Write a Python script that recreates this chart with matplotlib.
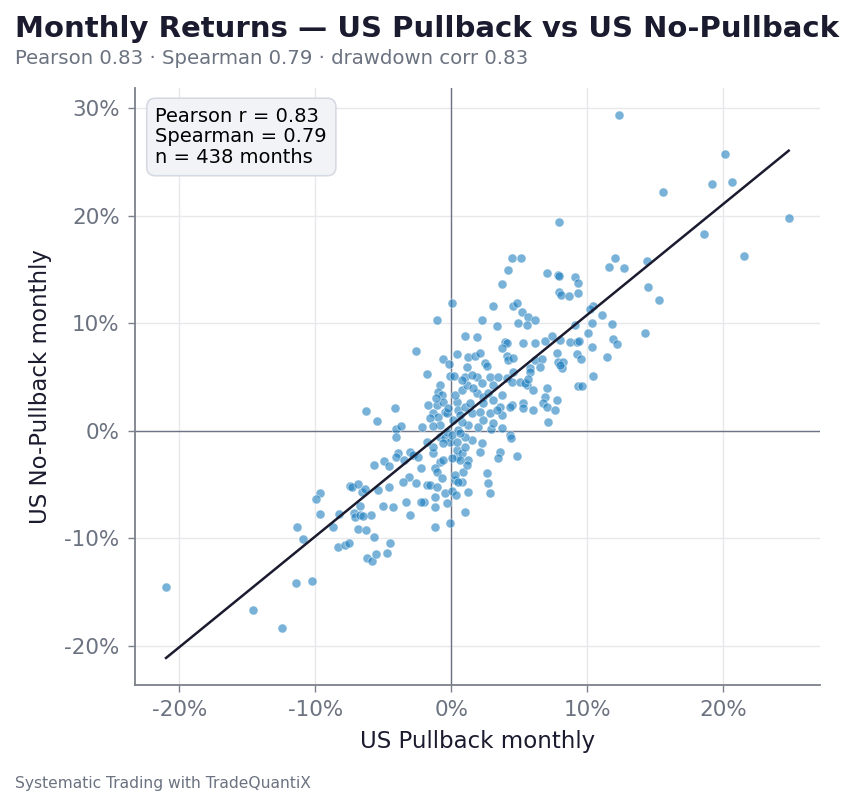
import numpy as np
import matplotlib
matplotlib.use("Agg")
import matplotlib.pyplot as plt
from matplotlib.ticker import FuncFormatter

# monthly returns in percent
# US Pullback (x)
pullback = [
    -20.98, -14.60, -12.47, -11.45, -10.27, -11.37, -10.93, -9.68, -9.98, -9.68,
    -8.73, -8.29, -8.36, -7.85, -7.56, -7.48, -7.34, -6.90, -6.75, -7.19,
    -7.12, -6.75, -6.90, -6.24, -5.87, -5.58, -4.70, -4.48, -5.72,
    -6.31, -5.50, -4.18, -4.04, -3.67, 5.58, 6.02, 5.28, 6.02, 4.48,
    4.33, 4.40, 2.13, 2.64, 3.60, 3.45, 4.84, 1.25, -5.72, -5.43,
    -5.94, -6.60, -6.38, -6.31, -6.53, -4.62, -5.06, -3.01, -1.17, -0.07,
    1.03, -1.17, 2.71, 2.86, 1.98, 2.93, 1.54,
    -4.11, -4.92, -4.62, -3.96, -4.11, -3.52, -3.01, -2.86, -2.42, -1.39,
    -0.81, -1.17, -1.03, -2.27, -3.15, -3.59, -2.64, -1.76, -1.54, -1.03,
    -0.66, -0.44, -0.29, -1.17, -2.05, -2.27, -3.37, -4.33, 0.44, 0.44,
    0.81, 1.03, 0.29, 0.81, 0.88, 1.17, 1.25, -0.81, -0.44, -0.07,
    -0.29, 0.66, 0.07, -0.59, 0.29, 0.51, 0.07, 0.37,
    -1.76, -0.81, -0.95, -0.66, -1.69, -1.03, -0.59, -1.32, -0.95, -0.44,
    -1.54, -2.13, -0.81, 0.44, 0.51, 1.03, 0.29, 0.81, 1.17, 1.03,
    1.91, 2.27, 2.86, 3.45, 1.91, 2.35, 3.08, 3.60, 1.54, 2.13,
    2.35, 3.08, 1.25, 0.51, 0.07, -0.59, 0.44, 1.03, 2.27, 3.74,
    3.74, -1.10, 1.61, 2.71, 3.74, 2.86, 0.81, -1.32, -1.76, -0.29,
    -0.22, 0.66,
    0.07, -1.03, -2.57, -0.59, -0.15, 0.44, -0.07, 0.22, -1.32,
    3.08, 4.55, 4.84, 5.21, 5.65, 6.16, 2.27, 3.37, 4.92, 5.58,
    1.03, 1.91, 3.96, 4.11, 3.74, 5.28, 6.16, 6.90, 7.41, 8.00,
    8.73, 9.24, 1.25, 1.76, 2.13, 4.11, 4.18, 4.55, 6.16, 6.68,
    7.78, 7.85, 8.22, 9.24, 5.80, 6.53, 8.14, 8.00, 2.49, 2.64,
    1.17, 4.11, 4.55, 5.80, 4.48, 5.06, 5.43, 5.65, 7.04, 6.90,
    7.78, 6.75, 4.33, 5.28, 7.04, 7.63, 7.12, 1.54, 3.08, 1.39,
    2.35, 0.81, 0.66, 0.15, 3.37,
    7.92, 4.48, 5.14, 4.18, 3.74, 7.04, 7.85, 7.92, 9.10, 9.32,
    7.92, 8.07, 8.66, 9.32, 12.03, 11.59, 12.69, 10.42,
    12.33, 20.10, 19.15, 20.62, 15.55, 24.80, 18.56, 21.50, 14.38, 14.45,
    15.26,
    10.20, 11.08, 10.34, 11.81, 9.10, 10.05, 14.23, 9.39, 11.89, 12.18,
    10.34, 9.54, 11.45, 10.42, 9.32, 9.61,
]
# US No-Pullback (y)
no_pullback = [
    -14.54, -16.68, -18.36, -14.17, -13.98, -8.95, -10.07, -5.78, -6.34, -7.74,
    -8.95, -7.74, -10.81, -10.62, -10.44, -5.13, -5.22, -4.94, -6.99, -7.64,
    -8.01, -7.83, -9.13, -11.84, -12.12, -11.46, -11.37, -10.44, -9.88,
    1.86, 0.93, 2.14, 0.19, 0.47, 4.29, 3.82, 2.61, 1.96, 2.42,
    -0.37, -0.65, -1.96, -3.91, -1.96, -2.52, -2.33, -2.70, -3.17, -5.50,
    -7.83, -5.68, -5.41, -9.23, -7.92, -5.22, -6.99, -7.83, -8.95, -8.57,
    -7.55, -7.08, -4.85, -5.78, 0.37, 0.19, -0.84,
    -0.56, -2.80, -3.26, -2.05, -2.42, -2.70, -1.96, -2.24, -2.42, -2.05,
    -2.89, -3.45, -3.82, -3.45, -4.29, -4.75, -4.85, -5.03, -5.03, -5.22,
    -4.38, -5.78, -6.71, -6.15, -6.62, -6.62, -6.62, -7.08, -2.42, -1.77,
    -2.05, -1.49, -4.57, -4.75, -3.82, -3.17, -5.68, -0.56, -0.65, -1.03,
    -0.09, -2.70, -2.52, -2.70, -4.10, -4.75, -5.59, -5.96,
    5.31, 4.29, 3.63, 3.35, 2.42, 2.42, 2.70, 1.68, 1.30, 1.77,
    1.21, 0.37, 0.56, 2.70, 1.96, 2.24, 3.35, 3.82, 4.29, 5.03,
    5.03, 4.47, 5.03, 5.03, 3.54, 3.17, 2.89, 2.24, 1.68, 1.77,
    1.03, 0.75, 0.56, 0.09, -0.37, -1.12, -1.03, -0.56, -1.12, 1.49,
    0.28, 3.08, 4.01, 3.54, 3.35, 1.68, 0.84, -1.49, -1.03, 1.68,
    2.14, -0.19,
    11.93, 10.34, 7.46, 6.71, 6.24, 7.18, 5.13, 5.13, 0.47,
    11.65, 11.56, 11.93, 11.09, 10.62, 10.34, 10.34, 9.79, 10.07, 9.88,
    8.85, 8.76, 8.29, 8.20, 7.74, 8.20, 8.20, 8.39, 8.85, 8.48,
    8.29, 8.29, 6.90, 6.99, 7.27, 6.99, 6.62, 6.80, 6.62, 6.71,
    7.27, 6.43, 6.43, 7.18, 5.87, 5.96, 5.87, 6.15, 6.34, 6.06,
    5.96, 4.94, 5.50, 5.50, 4.57, 4.57, 4.47, 4.85, 4.01, 3.17,
    2.89, 2.61, 2.24, 2.14, 2.24, 1.96, 0.84, 5.22, 4.29, 2.61,
    2.61, 4.75, 1.49, 1.03, 1.96,
    19.38, 16.03, 16.03, 14.91, 13.61, 14.63, 14.45, 14.35, 14.26, 13.70,
    12.95, 12.67, 12.58, 12.86, 16.03, 15.19, 15.10, 11.65,
    29.36, 25.72, 22.93, 23.11, 22.18, 19.76, 18.27, 16.22, 15.75, 13.33,
    12.12,
    11.37, 10.81, 10.07, 9.97, 9.88, 9.13, 9.13, 8.39, 8.57, 8.11,
    7.83, 6.71, 6.90, 5.13, 4.19, 4.19,
]

# fitted line
fit_slope = 1.03
fit_intercept = 0.5

stats_box = "Pearson r = 0.83\nSpearman = 0.79\nn = 438 months"
title = "Monthly Returns \u2014 US Pullback vs US No-Pullback"
subtitle = "Pearson 0.83 \u00b7 Spearman 0.79 \u00b7 drawdown corr 0.83"

dark = "#1b1b2f"
grey = "#6b7280"

x = np.array(pullback)
y = np.array(no_pullback)

fig = plt.figure(figsize=(8.54, 8.06), dpi=100)
ax = fig.add_axes([0.158, 0.150, 0.802, 0.741])

ax.grid(True, color="#e6e8ec", linewidth=1.0)
ax.set_axisbelow(True)
ax.axhline(0, color="#6b7385", linewidth=1.0, zorder=2)
ax.axvline(0, color="#6b7385", linewidth=1.0, zorder=2)

ax.scatter(x, y, s=42, color="#1f7fbf", alpha=0.6, edgecolors="white",
           linewidths=0.5, zorder=3)

xs = np.array([x.min(), x.max()])
ax.plot(xs, fit_intercept + fit_slope * xs, color=dark, linewidth=1.8, zorder=4)

pct = FuncFormatter(lambda v, p: f"{v:.0f}%")
ax.xaxis.set_major_formatter(pct)
ax.yaxis.set_major_formatter(pct)
ax.set_xticks([-20, -10, 0, 10, 20])
ax.set_yticks([-20, -10, 0, 10, 20, 30])
ax.margins(0.05)

for side in ["top", "right"]:
    ax.spines[side].set_visible(False)
for side in ["left", "bottom"]:
    ax.spines[side].set_color("#7b808a")
    ax.spines[side].set_linewidth(1.3)
ax.tick_params(colors="#7b808a", labelcolor=grey, labelsize=15.5, length=5,
               width=1, pad=6)

ax.set_xlabel("US Pullback monthly", fontsize=16.5, color=dark, labelpad=7)
ax.set_ylabel("US No-Pullback monthly", fontsize=16.5, color=dark, labelpad=9)

ax.text(0.03, 0.968, stats_box, transform=ax.transAxes, fontsize=14, color="black",
        va="top", ha="left", linespacing=1.1, zorder=5,
        bbox=dict(boxstyle="round,pad=0.45", fc="#f1f3f7", ec="#d6dae2", lw=1.2))

fig.text(0.018, 0.954, title, fontsize=21, fontweight="bold", color=dark, va="baseline")
fig.text(0.018, 0.921, subtitle, fontsize=14.2, color=grey, va="baseline")
fig.text(0.018, 0.022, "Systematic Trading with TradeQuantiX", fontsize=11.2,
         color=grey, va="baseline")

fig.savefig("out.png", dpi=100)
